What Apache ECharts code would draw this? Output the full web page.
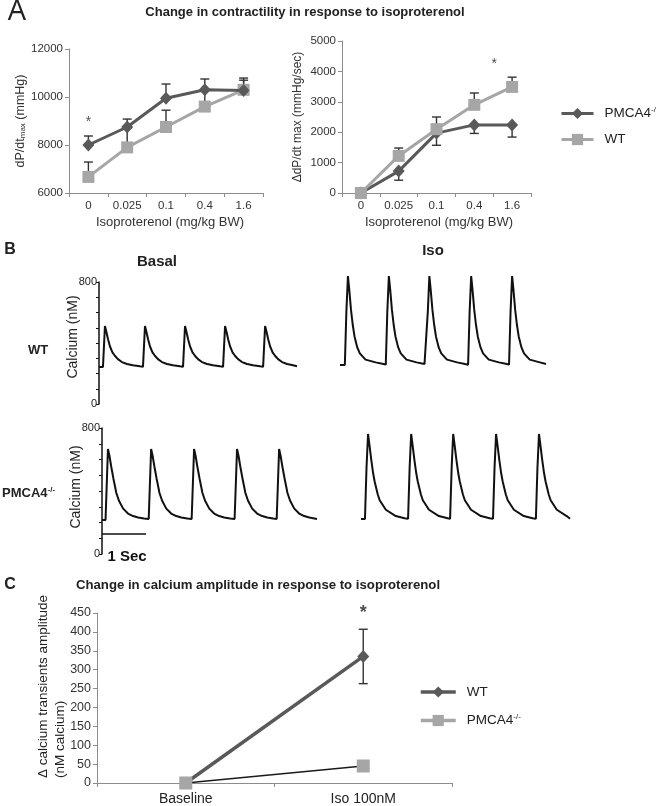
<!DOCTYPE html>
<html><head><meta charset="utf-8">
<script src="https://cdn.jsdelivr.net/npm/echarts@6/dist/echarts.min.js"></script>
<style>html,body{margin:0;padding:0;background:#fff}#c{width:656px;height:806px}</style>
</head><body><div id="c"></div><script>
// ---------- Panel A data ----------
const isoDoses = ['0', '0.025', '0.1', '0.4', '1.6'];
const dpdtPMCA = [8000, 8750, 9950, 10300, 10270];
const dpdtPMCAErr = [375, 330, 590, 450, 520];
const dpdtWT = [6670, 7900, 8750, 9600, 10300];
const dpdtWTErr = [620, 800, 700, 700, 400];
const deltaPMCA = [0, 720, 1970, 2240, 2240];
const deltaPMCAErr = [0, 300, 400, 280, 400];
const deltaWT = [0, 1220, 2100, 2900, 3490];
const deltaWTErr = [0, 260, 400, 390, 320];
const dpdtTicks = [6000, 8000, 10000, 12000];
const deltaTicks = [0, 1000, 2000, 3000, 4000, 5000];
// ---------- Panel B data: calcium traces [ms, nM] ----------
const traceWTBasal = [[0,243],
 [90,243],[135,511],[170,471],[205,425],[250,377],[305,339],[365,315],[430,294],[520,275],[635,262],[770,254],[930,247],
 [1000,245],[1045,511],[1080,471],[1115,425],[1160,377],[1215,339],[1275,315],[1340,294],[1430,275],[1545,262],[1680,254],[1840,247],
 [1910,245],[1955,511],[1990,471],[2025,425],[2070,377],[2125,339],[2185,315],[2250,294],[2340,275],[2455,262],[2590,254],[2750,247],
 [2820,245],[2865,511],[2900,471],[2935,425],[2980,377],[3035,339],[3095,315],[3160,294],[3250,275],[3365,262],[3500,254],[3660,247],
 [3730,245],[3775,511],[3810,471],[3845,425],[3890,377],[3945,339],[4005,315],[4070,294],[4160,275],[4275,262],[4410,254],[4500,248]];
const traceWTIso = [[0,256],
 [110,256],[145,606],[180,839],[210,752],[250,617],[290,518],[330,443],[390,373],[450,332],[580,291],[810,273],[990,262],
 [1040,258],[1075,606],[1110,839],[1140,752],[1180,617],[1220,518],[1260,443],[1320,373],[1380,332],[1510,291],[1740,273],[1920,262],
 [1960,258],[1995,606],[2030,839],[2060,752],[2100,617],[2140,518],[2180,443],[2240,373],[2300,332],[2430,291],[2660,273],[2840,262],
 [2910,258],[2945,606],[2980,839],[3010,752],[3050,617],[3090,518],[3130,443],[3190,373],[3250,332],[3380,291],[3610,273],[3790,262],
 [3840,258],[3875,606],[3910,839],[3940,752],[3980,617],[4020,518],[4060,443],[4120,373],[4180,332],[4310,291],[4540,273],[4680,262]];
const tracePMCABasal = [[0,216],
 [80,216],[135,667],[170,622],[210,554],[260,478],[325,387],[385,338],[480,288],[590,257],[705,241],[820,232],[955,225],
 [1060,222],[1115,667],[1150,622],[1190,554],[1240,478],[1305,387],[1365,338],[1460,288],[1570,257],[1685,241],[1800,232],[1935,225],
 [2035,222],[2090,667],[2125,622],[2165,554],[2215,478],[2280,387],[2340,338],[2435,288],[2545,257],[2660,241],[2775,232],[2910,225],
 [3010,222],[3065,667],[3100,622],[3140,554],[3190,478],[3255,387],[3315,338],[3410,288],[3520,257],[3635,241],[3750,232],[3885,225],
 [3965,222],[4020,667],[4055,622],[4095,554],[4145,478],[4210,387],[4270,338],[4365,288],[4475,257],[4590,241],[4705,232],[4880,222]];
const tracePMCAIso = [[0,222],
 [90,222],[125,546],[160,762],[190,697],[235,595],[275,514],[310,460],[380,379],[425,341],[565,281],[790,241],[990,227],
 [1070,224],[1105,546],[1140,762],[1170,697],[1215,595],[1255,514],[1290,460],[1360,379],[1405,341],[1545,281],[1770,241],[1970,227],
 [2025,224],[2060,546],[2095,762],[2125,697],[2170,595],[2210,514],[2245,460],[2315,379],[2360,341],[2500,281],[2725,241],[2925,227],
 [3000,224],[3035,546],[3070,762],[3100,697],[3145,595],[3185,514],[3220,460],[3290,379],[3335,341],[3475,281],[3700,241],[3900,227],
 [3975,224],[4010,546],[4045,762],[4075,697],[4120,595],[4160,514],[4195,460],[4265,379],[4310,341],[4450,281],[4675,241],[4750,224]];
const scaleBar = [[0,127],[1000,127]];
const caAxisLabels = [0, 800];
// ---------- Panel C data ----------
const caCategories = ['Baseline', 'Iso 100nM'];
const caWT = [0, 335];
const caWTErr = [0, 72];
const caPMCA = [0, 45];

const DARK = '#595959', LIGHT = '#a6a6a6', AX = '#8c8c8c';
const F = 'Liberation Sans';
const chart = echarts.init(document.getElementById('c'), null, {renderer: 'canvas'});

function errSeries(xi, vals, errs, dir, z) {
  return {
    type: 'custom', xAxisIndex: xi, yAxisIndex: xi, z: z, silent: true,
    data: vals.map((v, i) => [i, v, errs[i]]),
    renderItem(params, api) {
      const x = api.value(0), v = api.value(1), e = api.value(2);
      if (!e) return;
      const hw = 4.5, st = {stroke: '#333', lineWidth: 1.4};
      const kids = [];
      const dirs = dir === 0 ? [1, -1] : [dir];
      dirs.forEach(d => {
        const p0 = api.coord([x, v]), p1 = api.coord([x, v + d * e]);
        kids.push({type: 'line', shape: {x1: p0[0], y1: p0[1], x2: p1[0], y2: p1[1]}, style: st});
        kids.push({type: 'line', shape: {x1: p1[0] - hw, y1: p1[1], x2: p1[0] + hw, y2: p1[1]}, style: st});
      });
      return {type: 'group', children: kids};
    }
  };
}
function catX(gi, data, fs) {
  return {type: 'category', gridIndex: gi, data: data,
    axisLine: {lineStyle: {color: AX, width: 1}},
    axisTick: {show: true, length: 4, lineStyle: {color: AX}},
    axisLabel: {color: '#333', fontSize: fs, fontFamily: F, margin: 7, interval: 0}};
}
function valY(gi, min, max, interval, fs) {
  return {type: 'value', gridIndex: gi, min: min, max: max, interval: interval,
    axisLine: {show: true, lineStyle: {color: AX}},
    axisTick: {show: true, length: 4, lineStyle: {color: AX}},
    splitLine: {show: false},
    axisLabel: {color: '#333', fontSize: fs, fontFamily: F, margin: 6, formatter: v => String(v)}};
}
function traceX(gi, max) {
  return {type: 'value', gridIndex: gi, min: 0, max: max, show: false};
}
function traceY(gi, showAxis) {
  return {type: 'value', gridIndex: gi, min: 0, max: 800, interval: 100, show: showAxis,
    axisLine: {show: true, lineStyle: {color: '#111', width: 1.5}},
    axisTick: {show: true, length: 3, lineStyle: {color: '#111'}},
    splitLine: {show: false},
    axisLabel: {color: '#222', fontSize: 11, fontFamily: F, margin: 2,
      formatter: v => caAxisLabels.indexOf(v) >= 0 ? String(v) : ''}};
}
function trace(gi, data, w) {
  return {type: 'line', xAxisIndex: gi, yAxisIndex: gi, data: data, symbol: 'none', clip: false,
    silent: true, lineStyle: {color: '#111', width: w || 2}, smooth: false};
}
function star(gi, x, y, fs, off, bold) {
  return {type: 'scatter', xAxisIndex: gi, yAxisIndex: gi, data: [[x, y]], symbolSize: 0, silent: true, z: 10,
    label: {show: true, position: 'inside', formatter: '*', fontSize: fs, fontFamily: F, color: '#222',
      fontWeight: bold ? 'bold' : 'normal', offset: off || [0, 0]}};
}

const legText = {A_PMCA: 'PMCA4{s|-/-}', A_WT: 'WT', C_WT: 'WT', C_PMCA: 'PMCA4{s|-/-}'};
const legTextStyle = {fontSize: 13.5, fontFamily: F, color: '#222', padding: [0, 0, 0, 6],
  rich: {s: {fontSize: 8, fontFamily: F, verticalAlign: 'top', padding: [0, 0, 7, 0], color: '#222'}}};

const option = {
  animation: false,
  backgroundColor: '#fff',
  grid: [
    {left: 69, top: 49, width: 194, height: 144},
    {left: 342, top: 41, width: 189, height: 152},
    {left: 99, top: 282, width: 198, height: 122},
    {left: 340, top: 282, width: 206, height: 122},
    {left: 102, top: 428, width: 215, height: 126},
    {left: 361, top: 428, width: 209, height: 126},
    {left: 97, top: 613, width: 355, height: 170}
  ],
  xAxis: [
    catX(0, isoDoses, 11.5), catX(1, isoDoses, 11.5),
    traceX(2, 4500), traceX(3, 4680), traceX(4, 4880), traceX(5, 4750),
    Object.assign(catX(6, caCategories, 14), {axisLabel: {color: '#222', fontSize: 14, fontFamily: F, margin: 9, interval: 0}})
  ],
  yAxis: [
    Object.assign(valY(0, dpdtTicks[0], dpdtTicks[dpdtTicks.length - 1], 2000, 11.5), {
      name: 'dP/dt{sub|max} (mmHg)', nameLocation: 'middle', nameGap: 36,
      nameTextStyle: {fontSize: 12.5, fontFamily: F, color: '#333',
        rich: {sub: {fontSize: 8, fontFamily: F, color: '#333', verticalAlign: 'bottom', padding: [4, 0, 0, 0]}}}}),
    Object.assign(valY(1, deltaTicks[0], deltaTicks[deltaTicks.length - 1], 1000, 11.5), {
      name: '\u0394dP/dt max (mmHg/sec)', nameLocation: 'middle', nameGap: 38,
      nameTextStyle: {fontSize: 12, fontFamily: F, color: '#333'}}),
    traceY(2, true), traceY(3, false), traceY(4, true), traceY(5, false),
    valY(6, 0, 450, 50, 12.5)
  ],
  legend: [
    {orient: 'vertical', left: 555, top: 101, itemWidth: 32, itemHeight: 14, itemGap: 12,
      lineStyle: {width: 3},
      data: [{name: 'A_PMCA', lineStyle: {color: DARK, width: 3}}, {name: 'A_WT', lineStyle: {color: LIGHT, width: 3}}],
      formatter: n => legText[n], textStyle: legTextStyle, selectedMode: false},
    {orient: 'vertical', left: 414, top: 680, itemWidth: 35, itemHeight: 14, itemGap: 14,
      lineStyle: {width: 3},
      data: [{name: 'C_WT', lineStyle: {color: DARK, width: 3.5}}, {name: 'C_PMCA', lineStyle: {color: LIGHT, width: 3.5}}],
      formatter: n => legText[n], textStyle: legTextStyle, selectedMode: false}
  ],
  series: [
    errSeries(0, dpdtWT, dpdtWTErr, 1, 1),
    errSeries(0, dpdtPMCA, dpdtPMCAErr, 1, 1),
    {name: 'A_WT', type: 'line', xAxisIndex: 0, yAxisIndex: 0, data: dpdtWT, z: 3,
      symbol: 'rect', symbolSize: 12, itemStyle: {color: LIGHT}, lineStyle: {color: LIGHT, width: 3}},
    {name: 'A_PMCA', type: 'line', xAxisIndex: 0, yAxisIndex: 0, data: dpdtPMCA, z: 4,
      symbol: 'diamond', symbolSize: [12, 13], itemStyle: {color: DARK}, lineStyle: {color: DARK, width: 3}},
    errSeries(1, deltaWT, deltaWTErr, 1, 1),
    errSeries(1, deltaPMCA, deltaPMCAErr, -1, 1),
    {name: 'A_PMCA', type: 'line', xAxisIndex: 1, yAxisIndex: 1, data: deltaPMCA, z: 3,
      symbol: 'diamond', symbolSize: [12, 13], itemStyle: {color: DARK}, lineStyle: {color: DARK, width: 3}},
    {name: 'A_WT', type: 'line', xAxisIndex: 1, yAxisIndex: 1, data: deltaWT, z: 4,
      symbol: 'rect', symbolSize: 12, itemStyle: {color: LIGHT}, lineStyle: {color: LIGHT, width: 3}},
    star(0, 0, 8950, 14),
    star(1, 4, 4250, 14, [-18, 0]),
    trace(2, traceWTBasal), trace(3, traceWTIso), trace(4, tracePMCABasal), trace(5, tracePMCAIso),
    trace(4, scaleBar, 1.5),
    errSeries(6, caWT, caWTErr, 0, 1),
    {name: 'C_WT', type: 'line', xAxisIndex: 6, yAxisIndex: 6, data: caWT, z: 3,
      symbol: 'diamond', symbolSize: [12, 13], itemStyle: {color: DARK}, lineStyle: {color: DARK, width: 3.5}},
    {name: 'C_PMCA', type: 'line', xAxisIndex: 6, yAxisIndex: 6, data: caPMCA, z: 4,
      symbol: 'rect', symbolSize: 13, itemStyle: {color: LIGHT}, lineStyle: {color: '#1a1a1a', width: 1.6}},
    star(6, 1, 450, 18, [0, 0], true)
  ],
  graphic: [
    {type: 'text', x: 17, y: 12, style: {text: 'A', fontSize: 29, fontFamily: 'Open Sans', fill: '#222',
      textAlign: 'center', textVerticalAlign: 'middle'}},
    {type: 'text', x: 305, y: 12, style: {text: 'Change in contractility in response to isoproterenol', fontSize: 13,
      fontWeight: 'bold', fontFamily: F, fill: '#222', textAlign: 'center', textVerticalAlign: 'middle'}},
    {type: 'text', x: 170, y: 222, style: {text: 'Isoproterenol (mg/kg BW)', fontSize: 13, fontFamily: F, fill: '#333',
      textAlign: 'center', textVerticalAlign: 'middle'}},
    {type: 'text', x: 439, y: 222, style: {text: 'Isoproterenol (mg/kg BW)', fontSize: 13, fontFamily: F, fill: '#333',
      textAlign: 'center', textVerticalAlign: 'middle'}},
    {type: 'text', x: 10, y: 250, style: {text: 'B', fontSize: 16, fontWeight: 'bold', fontFamily: F, fill: '#222',
      textAlign: 'center', textVerticalAlign: 'middle'}},
    {type: 'text', x: 157, y: 262, style: {text: 'Basal', fontSize: 15, fontWeight: 'bold', fontFamily: F, fill: '#222',
      textAlign: 'center', textVerticalAlign: 'middle'}},
    {type: 'text', x: 433, y: 251, style: {text: 'Iso', fontSize: 15, fontWeight: 'bold', fontFamily: F, fill: '#222',
      textAlign: 'center', textVerticalAlign: 'middle'}},
    {type: 'text', x: 38, y: 350, style: {text: 'WT', fontSize: 13, fontWeight: 'bold', fontFamily: F, fill: '#222',
      textAlign: 'center', textVerticalAlign: 'middle'}},
    {type: 'text', x: 2, y: 493, style: {text: '{b|PMCA4}{s|-/-}', fill: '#222', textVerticalAlign: 'middle',
      rich: {b: {fontSize: 13, fontWeight: 'bold', fontFamily: F, fill: '#222'},
             s: {fontSize: 8, fontWeight: 'bold', fontFamily: F, fill: '#222', verticalAlign: 'top', padding: [0, 0, 6, 0]}}}},
    {type: 'text', x: 73, y: 337, rotation: Math.PI / 2, style: {text: 'Calcium (nM)', fontSize: 14, fontFamily: F,
      fill: '#222', textAlign: 'center', textVerticalAlign: 'middle'}},
    {type: 'text', x: 76, y: 487, rotation: Math.PI / 2, style: {text: 'Calcium (nM)', fontSize: 14, fontFamily: F,
      fill: '#222', textAlign: 'center', textVerticalAlign: 'middle'}},
    {type: 'text', x: 127, y: 557, style: {text: '1 Sec', fontSize: 15, fontWeight: 'bold', fontFamily: F, fill: '#111',
      textAlign: 'center', textVerticalAlign: 'middle'}},
    {type: 'text', x: 10, y: 585, style: {text: 'C', fontSize: 16, fontWeight: 'bold', fontFamily: F, fill: '#222',
      textAlign: 'center', textVerticalAlign: 'middle'}},
    {type: 'text', x: 258, y: 585, style: {text: 'Change in calcium amplitude in response to isoproterenol', fontSize: 13.2,
      fontWeight: 'bold', fontFamily: F, fill: '#222', textAlign: 'center', textVerticalAlign: 'middle'}},
    {type: 'text', x: 43, y: 778, rotation: Math.PI / 2, style: {text: '\u0394 calcium transients amplitude', fontSize: 13.5,
      fontFamily: F, fill: '#222', textAlign: 'left', textVerticalAlign: 'middle'}},
    {type: 'text', x: 60, y: 778, rotation: Math.PI / 2, style: {text: '(nM calcium)', fontSize: 13.5,
      fontFamily: F, fill: '#222', textAlign: 'left', textVerticalAlign: 'middle'}}
  ]
};
chart.setOption(option);
</script></body></html>
